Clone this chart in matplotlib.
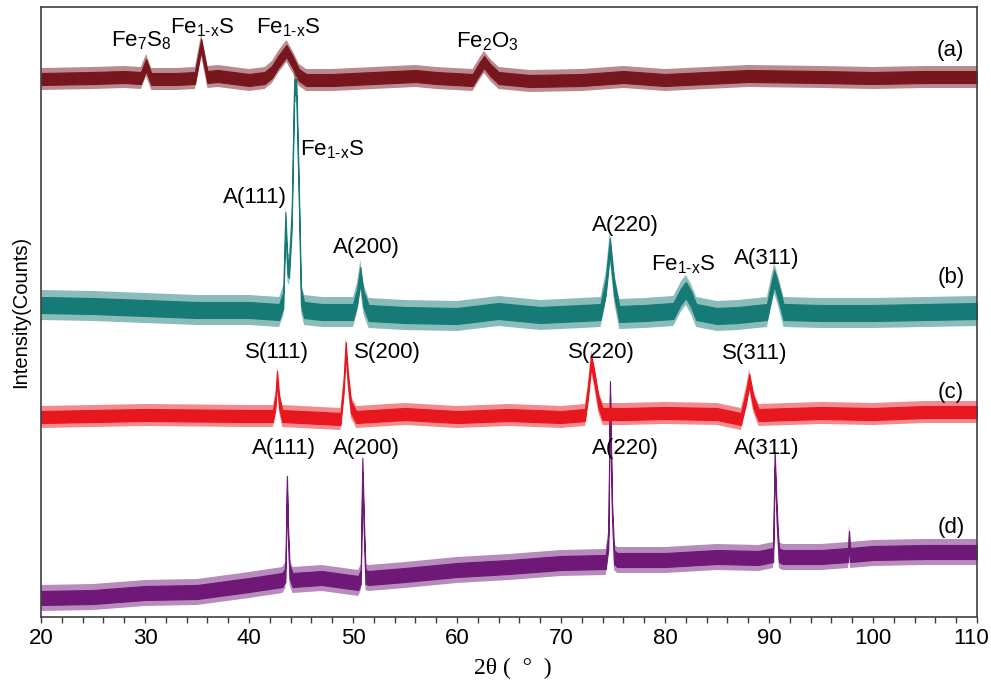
import matplotlib
matplotlib.use("Agg")
import matplotlib.pyplot as plt
import matplotlib.transforms as mtransforms
import numpy as np

plt.rcParams['font.family'] = ['Liberation Sans', 'DejaVu Sans']
plt.rcParams['mathtext.fontset'] = 'custom'
plt.rcParams['mathtext.rm'] = 'Liberation Sans'

# -------------------------
# Traces: 2-theta knots and band centre (offset counts)
# -------------------------
a_x = [20, 25, 28, 29.6, 30.1, 30.6, 33, 34.8, 35.4, 36.0, 37, 40, 41.5, 42.2, 42.8, 43.6,
       44.2, 44.8, 45.5, 48, 52, 56, 58, 61.5, 62.2, 62.6, 63.2, 64, 67, 72, 76, 80, 84,
       88, 95, 100, 105, 110]
a_y = [538, 539, 540, 539, 552, 538, 538, 539, 572, 540, 541, 537, 539, 545, 555, 566,
       555, 542, 537, 537, 539, 541, 539, 537, 549, 555, 547, 539, 536, 537, 540, 537, 539,
       541, 540, 539, 540, 540]

b_x = [20, 25, 30, 35, 40, 42.9, 43.3, 43.5, 43.7, 43.85, 44.1, 44.35, 44.55, 44.8, 45.0,
       45.3, 47, 50.0, 50.4, 50.7, 51.0, 51.5, 55, 60, 64, 68, 72, 73.8, 74.3, 74.7, 75.1,
       75.6, 78, 80.8, 81.5, 82.0, 82.5, 83, 85, 87, 89.8, 90.2, 90.5, 90.9, 91.4, 95, 100,
       105, 110]
b_y = [312, 311, 309, 307, 307, 305, 317, 397, 350, 347, 394, 530, 530, 420, 320,
       307, 305, 305, 320, 342, 318, 304, 302, 301, 306, 302, 304, 305, 330, 371, 330,
       303, 304, 306, 320, 327, 318, 305, 301, 302, 305, 325, 339, 325, 305, 304, 304,
       305, 306]

c_x = [20, 30, 40, 42.3, 42.55, 42.7, 42.9, 43.2, 48.8, 49.1, 49.3, 49.5, 49.8, 50.3, 55,
       60, 65, 70, 72.3, 72.6, 72.9, 73.2, 73.6, 74.0, 76, 80, 85, 87.3, 87.8, 88.1, 88.5,
       89, 95, 100, 105, 110]
c_y = [200, 202, 201, 201, 215, 240, 215, 201, 198, 230, 269, 240, 210, 200, 203,
       200, 202, 200, 202, 225, 256, 240, 215, 203, 203, 204, 203, 198, 220, 237, 215,
       202, 204, 203, 205, 205]

d_x = [20, 25, 30, 35, 40, 43.2, 43.5, 43.65, 43.75, 43.9, 44.2, 47, 50.5, 50.75, 50.9,
       51.05, 51.2, 51.5, 55, 60, 65, 70, 74.3, 74.55, 74.71, 74.9, 75.1, 75.4, 80, 85,
       89, 90.4, 90.55, 90.75, 90.95, 91.3, 95, 97.6, 97.7, 97.8, 100, 105, 110]
d_y = [19, 20, 24, 25, 32, 37, 42, 134, 85, 45, 37, 39, 34, 40, 152,
       90, 40, 39, 42, 47, 50, 54, 55, 75, 229, 110, 60, 57, 57, 60,
       59, 62, 158, 100, 62, 60, 60, 62, 79, 62, 64, 65, 65]

# half thickness of the dense core and of the spiky fringe of each band (counts)
core = {'a': 6, 'b': 8, 'c': 6, 'd': 7}
fringe = {'a': 11, 'b': 15, 'c': 11, 'd': 13}
colors = {'a': '#78161E', 'b': '#167A76', 'c': '#E8161E', 'd': '#701878'}

# annotation text and where it sits
fexs = r'$\mathregular{Fe_{1\text{-}x}S}$'
labels = [
    (r'$\mathregular{Fe_7S_8}$', 29.6, 576), (fexs, 35.5, 589), (fexs, 43.75, 589),
    (r'$\mathregular{Fe_2O_3}$', 62.9, 575), ('(a)', 107.4, 567),
    (fexs, 48.0, 467), ('A(111)', 40.6, 420), ('A(200)', 51.3, 370),
    ('A(220)', 76.15, 392), (fexs, 81.7, 352), ('A(311)', 89.8, 359), ('(b)', 107.5, 340),
    ('S(111)', 42.7, 265), ('S(200)', 53.3, 265), ('S(220)', 73.85, 265),
    ('S(311)', 88.65, 264), ('(c)', 107.5, 225),
    ('A(111)', 43.4, 169), ('A(200)', 51.25, 169), ('A(220)', 76.15, 169),
    ('A(311)', 89.8, 169), ('(d)', 107.5, 89),
]

fig = plt.figure(figsize=(9.91, 6.91), dpi=100)
ax = fig.add_axes([41 / 991, 1 - 617 / 691, 936 / 991, 610 / 691])

traces = {'d': (d_x, d_y), 'c': (c_x, c_y), 'b': (b_x, b_y), 'a': (a_x, a_y)}
for key, (xs, ys) in traces.items():
    xs = np.array(xs)
    ys = np.array(ys)
    ax.fill_between(xs, ys - fringe[key], ys + fringe[key], facecolor=colors[key],
                    edgecolor='none', alpha=0.5)
    ax.fill_between(xs, ys - core[key], ys + core[key], facecolor=colors[key],
                    edgecolor=colors[key], lw=0.8)

for txt, x, y in labels:
    ax.text(x, y, txt, ha='center', va='center', fontsize=16, color='black')

ax.set_xlim(20, 110)
ax.set_ylim(0, 610)
ax.set_yticks([])
ax.set_xticks(np.arange(20, 111, 10))
ax.set_xticks(np.arange(20, 111, 2), minor=True)
ax.tick_params(axis='x', which='both', direction='out', length=4, width=1,
               color='#404040', labelsize=16, pad=4)
for s in ax.spines.values():
    s.set_color('#404040')
    s.set_linewidth(1.2)

# last tick label sits a little to the left of its tick
last = ax.get_xticklabels()[-1]
last.set_transform(last.get_transform() +
                   mtransforms.ScaledTranslation(-6 / 100, 0, fig.dpi_scale_trans))

fig.text(21 / 991, 1 - 312 / 691, 'Intensity(Counts)', rotation=90,
         ha='center', va='center', fontsize=14.5)
fig.text(513 / 991, 1 - 668 / 691, '2θ (  °  )', ha='center', va='center',
         fontsize=17, family='Liberation Serif')

fig.savefig('out.png', dpi=100)
